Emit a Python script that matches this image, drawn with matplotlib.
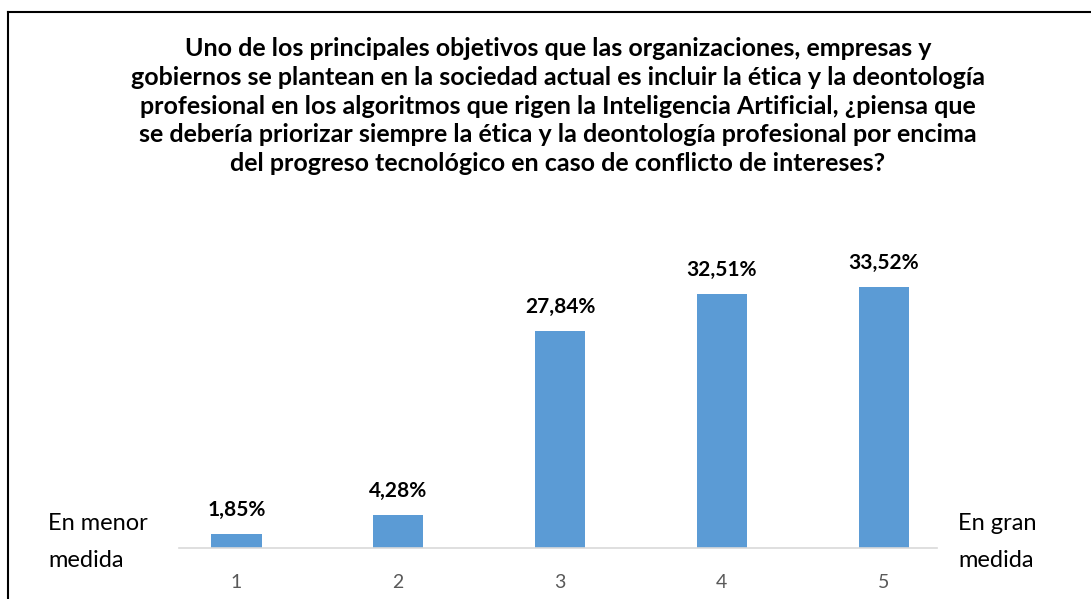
import matplotlib.pyplot as plt
from matplotlib.lines import Line2D

# Survey answers on a 1-5 scale (percent of respondents)
categories = ['1', '2', '3', '4', '5']
percentages = [1.85, 4.28, 27.84, 32.51, 33.52]
value_labels = ['1,85%', '4,28%', '27,84%', '32,51%', '33,52%']

title = ('Uno de los principales objetivos que las organizaciones, empresas y\n'
         'gobiernos se plantean en la sociedad actual es incluir la ética y la deontología\n'
         'profesional en los algoritmos que rigen la Inteligencia Artificial, ¿piensa que\n'
         'se debería priorizar siempre la ética y la deontología profesional por encima\n'
         'del progreso tecnológico en caso de conflicto de intereses?')

plt.rcParams['font.family'] = ['Lato', 'DejaVu Sans']

fig = plt.figure(figsize=(10.91, 5.99), dpi=100)
W, H = 1091, 599
ax = fig.add_axes([179 / W, (H - 548) / H, (937 - 179) / W, (548 - 236) / H])

x = list(range(len(categories)))
ax.bar(x, percentages, width=0.31, color='#5B9BD5', zorder=2)
for xi, v, lab in zip(x, percentages, value_labels):
    ax.text(xi, v + 1.8, lab, ha='center', va='bottom', fontsize=15,
            fontweight='bold', color='black')

ax.set_xlim(-0.355, 4.33)
ax.set_ylim(0, 40)
ax.set_xticks(x)
ax.set_xticklabels(categories, fontsize=14, color='#595959')
ax.tick_params(axis='x', length=0, pad=19)
ax.set_yticks([])
for side in ['top', 'right', 'left']:
    ax.spines[side].set_visible(False)
ax.spines['bottom'].set_color('#D9D9D9')
ax.spines['bottom'].set_linewidth(1.2)

# Scale end descriptions
fig.text(48 / W, 1 - 542 / H, 'En menor\nmedida', ha='left', va='center',
         fontsize=17, linespacing=1.95)
fig.text(958 / W, 1 - 542 / H, 'En gran\nmedida', ha='left', va='center',
         fontsize=17, linespacing=1.95)

fig.text(558 / W, 1 - 106 / H, title, ha='center', va='center', fontsize=18,
         fontweight='bold', linespacing=1.3)

# Chart frame (only the top and left edges fall inside the image)
fig.add_artist(Line2D([8 / W, 1], [1 - 12 / H, 1 - 12 / H], color='black',
                      lw=1.5, transform=fig.transFigure))
fig.add_artist(Line2D([8 / W, 8 / W], [0, 1 - 12 / H], color='black',
                      lw=1.5, transform=fig.transFigure))

fig.savefig('out.png', dpi=100, facecolor='white')
